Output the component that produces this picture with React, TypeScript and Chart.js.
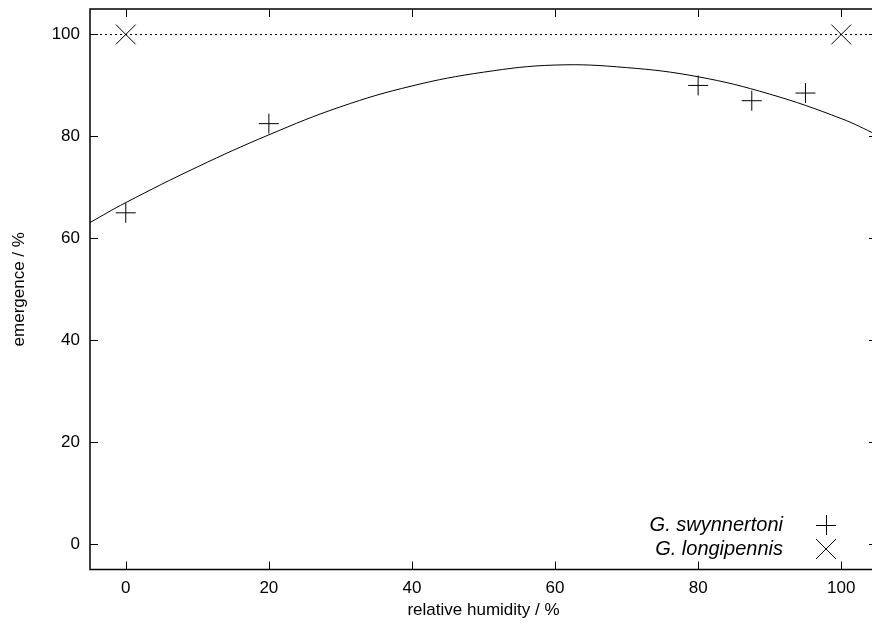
import React, { useEffect, useRef } from "react";
import { Chart, registerables } from "chart.js";

Chart.register(...registerables);

// Measured data
const humidity = [0, 20, 80, 87.5, 95];
const swynnertoni = [65, 82.5, 90, 87, 88.5];
const longiHumidity = [0, 100];
const longipennis = [100, 100];

// Fitted curve
const fitHumidity = [-5, 0, 10, 20, 30, 40, 50, 60, 70, 80, 90, 100, 105];
const fitEmergence = [63.1, 67.0, 74.0, 80.3, 85.8, 89.9, 92.6, 94.0, 93.5, 91.7, 88.3, 83.5, 80.3];

// Dotted reference line
const refHumidity = [-5, 105];
const refEmergence = [100, 100];

const xTicks = [0, 20, 40, 60, 80, 100];
const yTicks = [0, 20, 40, 60, 80, 100];

const seriesNames = ["G. swynnertoni", "G. longipennis"];

const FONT = '"Liberation Sans", Arial, Helvetica, sans-serif';

const framePlugin = {
  id: "gnuFrame",
  afterDatasetsDraw(chart: any) {
    const { ctx, chartArea, scales } = chart;
    const { left, right, top, bottom } = chartArea;
    const x = scales.x;
    const y = scales.y;
    ctx.save();
    ctx.strokeStyle = "#000";
    ctx.lineWidth = 1.5;
    ctx.strokeRect(left, top, right - left, bottom - top);
    ctx.lineWidth = 1;
    ctx.beginPath();
    for (const v of xTicks) {
      const px = Math.round(x.getPixelForValue(v)) + 0.5;
      ctx.moveTo(px, bottom);
      ctx.lineTo(px, bottom - 8);
      ctx.moveTo(px, top);
      ctx.lineTo(px, top + 8);
    }
    for (const v of yTicks) {
      const py = Math.round(y.getPixelForValue(v)) + 0.5;
      ctx.moveTo(left, py);
      ctx.lineTo(left + 8, py);
      ctx.moveTo(right, py);
      ctx.lineTo(right - 8, py);
    }
    ctx.stroke();

    // key (text, then symbol, gnuplot style)
    const textRight = 783;
    const symX = 826;
    const rows = [525, 549];
    ctx.fillStyle = "#000";
    ctx.font = `italic 20px ${FONT}`;
    ctx.textAlign = "right";
    ctx.textBaseline = "middle";
    ctx.fillText(seriesNames[0], textRight, rows[0]);
    ctx.fillText(seriesNames[1], textRight, rows[1]);
    ctx.beginPath();
    ctx.moveTo(symX - 10, rows[0] + 0.5);
    ctx.lineTo(symX + 10, rows[0] + 0.5);
    ctx.moveTo(symX + 0.5, rows[0] - 10);
    ctx.lineTo(symX + 0.5, rows[0] + 10);
    ctx.moveTo(symX - 10, rows[1] - 10);
    ctx.lineTo(symX + 10, rows[1] + 10);
    ctx.moveTo(symX + 10, rows[1] - 10);
    ctx.lineTo(symX - 10, rows[1] + 10);
    ctx.stroke();
    ctx.restore();
  },
};

const zeroPad = (s: any) => {
  s.paddingTop = 0;
  s.paddingBottom = 0;
  s.paddingLeft = 0;
  s.paddingRight = 0;
};

export default function App() {
  const canvasRef = useRef<HTMLCanvasElement | null>(null);

  useEffect(() => {
    document.body.style.margin = "0";
    const canvas = canvasRef.current;
    if (!canvas) return;
    const chart = new Chart(canvas, {
      type: "scatter",
      data: {
        datasets: [
          {
            label: "ref",
            data: refHumidity.map((h, i) => ({ x: h, y: refEmergence[i] })),
            showLine: true,
            borderColor: "#000",
            borderWidth: 1,
            borderDash: [2, 3],
            pointRadius: 0,
          },
          {
            label: "fit",
            data: fitHumidity.map((h, i) => ({ x: h, y: fitEmergence[i] })),
            showLine: true,
            borderColor: "#000",
            borderWidth: 1,
            pointRadius: 0,
            tension: 0.4,
          },
          {
            label: seriesNames[0],
            data: humidity.map((h, i) => ({ x: h, y: swynnertoni[i] })),
            pointStyle: "cross",
            pointRadius: 10,
            borderColor: "#000",
            backgroundColor: "#000",
            borderWidth: 1,
          },
          {
            label: seriesNames[1],
            data: longiHumidity.map((h, i) => ({ x: h, y: longipennis[i] })),
            pointStyle: "crossRot",
            pointRadius: 14,
            borderColor: "#000",
            backgroundColor: "#000",
            borderWidth: 1,
          },
        ],
      },
      options: {
        animation: false,
        responsive: false,
        devicePixelRatio: 1,
        clip: false as any,
        layout: { autoPadding: false, padding: { top: 9, right: 1, left: 0, bottom: 0 } },
        plugins: {
          legend: { display: false },
          tooltip: { enabled: false },
        },
        scales: {
          x: {
            type: "linear",
            min: -5,
            max: 105,
            grid: { display: false, drawTicks: false },
            border: { display: false },
            ticks: {
              stepSize: 20,
              includeBounds: false,
              padding: 9,
              color: "#000",
              font: { family: FONT, size: 17 },
            },
            title: {
              display: true,
              text: "relative humidity / %",
              color: "#000",
              font: { family: FONT, size: 17 },
              padding: { top: 0, bottom: 5 },
            },
            afterFit: (s: any) => {
              s.height = 56.5;
              zeroPad(s);
            },
          },
          y: {
            type: "linear",
            min: -5,
            max: 105,
            grid: { display: false, drawTicks: false },
            border: { display: false },
            ticks: {
              stepSize: 20,
              includeBounds: false,
              padding: 10,
              color: "#000",
              font: { family: FONT, size: 17 },
            },
            title: {
              display: true,
              text: "emergence / %",
              color: "#000",
              font: { family: FONT, size: 17 },
              padding: { top: 9, bottom: 0 },
            },
            afterFit: (s: any) => {
              s.width = 90;
              zeroPad(s);
            },
          },
        },
      },
      plugins: [framePlugin],
    });
    return () => chart.destroy();
  }, []);

  return (
    <div style={{ width: 872, height: 626, overflow: "hidden", position: "relative", background: "#fff" }}>
      <canvas ref={canvasRef} width={878} height={626} style={{ display: "block", width: 878, height: 626 }} />
    </div>
  );
}
